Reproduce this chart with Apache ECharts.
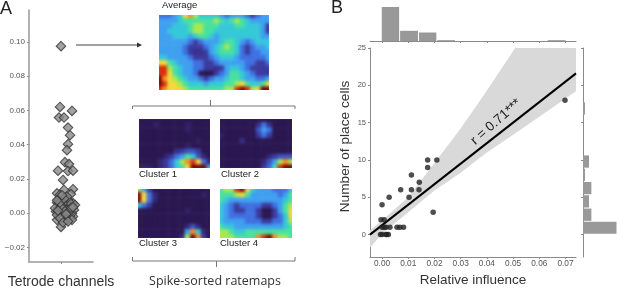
<!DOCTYPE html>
<html><head><meta charset="utf-8">
<style>html,body{margin:0;padding:0;background:#fff}#c{width:617px;height:288px}</style>
<script src="https://cdn.jsdelivr.net/npm/echarts@6/dist/echarts.min.js"></script>
</head><body><div id="c"></div>
<script>
// Panel A: tetrode channels (horizontal jitter, relative influence)
const tetrodeJitter=[0,-1,11,-2,3,7,9,7,6,4,8,-3,7,12,2,12,3,-4,-1,10,2,-4,12,7,6,-3,2,9,13,-5,-1,4,11,-4,7,12,2,0,-2,6,-2,3,10,7,-6,14,1,5,-4,9,6,-1,11,2,7,0,4,-3,8,-1,3,10,-4,5,12,1];
const tetrodeValues=[0.0975,0.062,0.0597,0.0558,0.0558,0.05,0.0455,0.0403,0.0368,0.0298,0.0287,0.0248,0.0246,0.0248,0.0194,0.014,0.0136,0.0116,0.0107,0.0112,0.0072,0.0062,0.0058,0.0078,0.0048,0.0029,0.0019,0.0023,0.0019,0.001,0,-0.001,0,-0.0039,-0.0029,-0.0019,-0.0029,-0.008,0.0078,0.0097,0.0058,0.0048,0.0054,0.0019,0.0029,0.0048,0.0039,0.0019,-0.001,-0.0016,-0.0039,-0.0029,-0.0039,-0.0054,-0.0048,0.0035,0.0012,0.0015,0.0008,0.0062,0.0085,0.0032,0.0075,-0.0005,0.0035,0.0105];
const tetrodeTicks=[-0.02,0,0.02,0.04,0.06,0.08,0.10];

// Panel A: rate maps, colour levels 0-10
const averageMap=[
[2,2,2,3,4,7,8,6,4,4,4,4,3,2,3,3,3,2,1,2,3,3],
[3,3,3,3,4,5,5,5,5,5,5,6,5,4,5,6,5,4,3,3,3,3],
[3,3,3,4,4,4,5,6,6,5,5,5,4,4,4,5,5,4,4,4,3,1],
[3,3,4,4,4,4,5,6,6,5,5,4,4,4,4,4,4,4,4,4,3,1],
[3,3,3,4,4,4,3,4,5,5,4,3,4,4,4,4,4,4,4,4,3,3],
[3,3,3,3,3,3,2,1,2,3,3,3,4,5,5,4,3,2,3,4,4,4],
[3,3,3,3,3,2,1,1,1,2,3,4,5,6,5,4,2,1,2,3,3,4],
[3,3,3,3,3,2,1,0.7,0.7,1,3,4,5,5,5,4,2,1,2,2,3,3],
[4,4,3,3,3,3,2,1,1,1,2,3,4,4,4,3,2,2,2,2,2,3],
[7,7,5,4,3,3,3,2,2,1,1,2,3,3,3,3,3,2,2,1,1,2],
[9,9,6,5,4,3,3,2,2,1,1,0.7,1,3,4,4,3,2,1,1,1,1],
[9,9,7,5,4,3,3,2,0,0,0,1,2,3,5,5,4,3,2,1,1,1],
[10,8,7,6,5,4,3,3,2,1,2,3,3,4,5,5,4,3,3,2,2,3],
[10,9,7,7,6,5,4,4,4,3,4,4,4,5,5,6,7,5,4,4,5,7],
[9,8,7,7,7,6,5,5,5,5,5,5,5,6,6,9,10,9,6,7,10,10]];
const cluster1Map=[
[0,0,0,0,0,0,0,0,0,0,0,0,0,0],
[0,0,0,0.3,0,0,0,0,0,0.3,0,0,0,0],
[0,0,0,0,0,0,0,0,0,0.3,0,0,0,0],
[0,0,0,0,0,0,0,0,0,0,0,0,0,0],
[0,0,0,0,0,0,0,0,0,0,0,0.3,0,0],
[0,0,0,0,0,0,0,0,0,0.3,0,0,0,0],
[0,0,0,0,0,0,0,0.7,1,1.5,1.5,1,0,0],
[0,0,0,0,0,0.5,1,2,3,5,4,1.5,0.5,0],
[0,0,0,0,0.5,1,2,4,6,8,9,7,2,0.5],
[0.3,0.3,0.3,0,0.5,1,2,4,5,7,10,10,10,3]];
const cluster2Map=[
[0,0,0,0,0,0,0,0,0,0,0,0,0,0],
[0,0,0,0,0,0,0,0.7,2,0.7,0,0,0,0],
[0,0,0,0,0,0,0,1.5,3,2,0,0,0,0],
[0.3,0,0,0,0,0,0,1,2,1,0,0,0,0],
[0,0,0,0,0.7,0,0,0,0,0,0,0,0,0],
[0,0,0,0,0,0,0,0,0,0,0,0,0,0],
[0,0,0,0,0,0,0,0,0,0,0,0,0,0],
[0,0,0,0,0,0,0,0,0,0.5,1,1.5,1.5,1.5],
[0,0,0,0,0,0,0,0,0.5,1.5,3,6,8,6],
[0,0,0,0,0,0,0,0,1,2,5,9,10,10]];
const cluster3Map=[
[6,3,1,0,0,0,0,0,0,0,0,0,0,0],
[10,7,2,0.5,0,0,0,0,0,0,0,0,0.3,0],
[10,7,2,0.5,0,0,0,0,0,0,0,0,0,0],
[4,2,1,0,0,0,0,0,0,0,0,0,0,0],
[0,0,0,0,0,0,0,0,0,0.3,0,0,0,0],
[0,0,0,0,0,0,0,0,0,0,0,0,0,0],
[0,0,0,0,0,0,0,0,0,0,0,0,0,0],
[0,0,0,0,0,0,0,0,0,0.5,1.5,0.5,0,0],
[0,0,0,0,0,0,0,0,0,3,8,4,0.5,0],
[0,0,0,0,0,0,0,0,0.5,6,10,8,1,0]];
const cluster4Map=[
[5,6,6,9,10,7,4,3,3,3,2,2,2,4],
[5,5,5,6,7,5,3,3,3,3,3,2,3,5],
[5,4,3,3,3,3,3,3,3,3,3,3,4,5],
[4,3,2,1,2,2,2,2,1,1,2,3,5,6],
[4,3,2,1,1,2,2,1,0,0,1,3,5,7],
[4,3,2,2,2,2,2,1,0,0,1,2,4,7],
[4,3,3,3,3,2,2,2,1,1,2,2,4,6],
[5,4,4,3,3,3,3,3,3,3,3,3,4,5],
[6,6,5,4,4,5,5,5,5,5,5,5,5,5],
[6,6,6,5,5,5,5,8,9,10,8,6,6,5]];

// Panel B: scatter
const influenceValues=[-0.0006,0,0.0014,0.0018,0.0024,0,0.0008,0.0015,0.003,0.0057,0.0068,0.0082,-0.0004,0.0008,0.0195,0,0.0027,0.0103,0.0071,0.0112,0.0141,0.0142,0.0112,0.0174,0.0174,0.0209,0.0698];
const placeCellValues=[0,0,0,0,0,1,1,1,1,1,1,1,2,2,3,4,5,5,6,6,6,7,8,9,10,10,18];
const xTicks=[0,0.01,0.02,0.03,0.04,0.05,0.06,0.07];
const yTicks=[0,5,10,15,20,25];
// regression line and its confidence band
const fitX=[-0.0046,0.074];
const fitY=[0,21.6];
const bandUpperX=[-0.0046,0,0.01,0.02,0.03,0.04,0.0508,0.074];
const bandUpperY=[0.6,1.9,5,9.6,14.2,19.3,25,25];
const bandLowerX=[0.074,0.0527,0.04,0.03,0.02,0.01,0,-0.0046];
const bandLowerY=[19.2,14,11,8.3,5.9,3,0.1,-1.75];
// marginal histograms
const topEdges=[-0.0003,0.0067,0.0139,0.0209,0.028,0.035,0.042,0.049,0.056,0.063,0.0702];
const topCounts=[20,6,5,0.5,0,0,0,0,0,0.5];
const rightEdges=[0.04,1.78,3.56,5.34,7.12,8.9,10.68,12.46,14.24,16.02,17.8];
const rightCounts=[20,5,3.6,5,1.2,3.6,0,0,0,1.2];

const mapPalette=['#2a1650','#3b3a9e','#3f6fe0','#3f9ff0','#35c8d8','#48e0a0','#a5e850','#f2d838','#f88e20','#d83010','#760806'];
const axisGrey='#8a8a8a', textDark='#333', tickText='#555', FONT='"Liberation Sans",Arial,sans-serif';

const grids=[], xAxes=[], yAxes=[], series=[];
function addGrid(g,x,y){grids.push(Object.assign({outerBoundsMode:'none'},g));xAxes.push(Object.assign({gridIndex:grids.length-1},x));yAxes.push(Object.assign({gridIndex:grids.length-1},y));return grids.length-1;}

// rate maps: each grid runs slightly past the visible box so the soft edge is masked off
const bleed=2;
const mapBoxes=[[averageMap,159,15,110,75],[cluster1Map,139,119,71,49],[cluster2Map,220,119,72,49],[cluster3Map,138,189,72,49],[cluster4Map,220,189,72,49]];
const heatIdx=[];
mapBoxes.forEach(function(b){
  const rows=b[0];
  const i=addGrid({left:b[1]-bleed,top:b[2]-bleed,width:b[3]+2*bleed,height:b[4]+2*bleed},
    {type:'category',show:false,data:rows[0].map(function(_,k){return k;})},
    {type:'category',show:false,inverse:true,data:rows.map(function(_,k){return k;})});
  const d=[];rows.forEach(function(r,ri){r.forEach(function(v,ci){d.push([ci,ri,v]);});});
  heatIdx.push(series.length);
  series.push({type:'heatmap',xAxisIndex:i,yAxisIndex:i,data:d,zlevel:1,silent:true,itemStyle:{borderWidth:0}});
});

// panel A scatter
const a=addGrid({left:29,top:10,width:64,height:252},
 {type:'value',min:-32,max:32,name:'Tetrode channels',nameLocation:'middle',nameGap:13,nameTextStyle:{fontFamily:FONT,fontSize:14,color:textDark},
  axisLine:{onZero:false,lineStyle:{color:'#999',width:1.5}},axisTick:{show:true,length:2,lineStyle:{color:axisGrey},customValues:[0]},axisLabel:{show:false},splitLine:{show:false}},
 {type:'value',min:-0.0285,max:0.1186,axisLine:{show:true,onZero:false,lineStyle:{color:'#999',width:1.5}},
  axisTick:{show:true,length:2,lineStyle:{color:axisGrey},customValues:tetrodeTicks},
  axisLabel:{customValues:tetrodeTicks,margin:4,fontFamily:FONT,fontSize:8,color:tickText,formatter:function(v){return (v<0?'\u2212':'')+Math.abs(v).toFixed(2);}},splitLine:{show:false}});
series.push({type:'scatter',xAxisIndex:a,yAxisIndex:a,symbol:'diamond',symbolSize:9.5,
  data:tetrodeValues.map(function(v,i){return [tetrodeJitter[i],v];}),itemStyle:{color:'#8a8a8a',borderColor:'#333',borderWidth:1.1}});

// panel B main
const xLab=function(v){return v.toFixed(2);};
const m=addGrid({left:370,top:48,width:206,height:209},
 {type:'value',min:-0.0046,max:0.074,name:'Relative influence',nameLocation:'middle',nameGap:15,nameTextStyle:{fontFamily:FONT,fontSize:13.5,color:textDark},
  axisLine:{onZero:false,lineStyle:{color:axisGrey}},axisTick:{length:2,lineStyle:{color:axisGrey},customValues:xTicks},
  axisLabel:{customValues:xTicks,margin:3,fontFamily:FONT,fontSize:8.3,color:tickText,formatter:xLab},splitLine:{show:false}},
 {type:'value',min:-3,max:25,name:'Number of place cells',nameLocation:'middle',nameGap:18,nameRotate:90,nameTextStyle:{fontFamily:FONT,fontSize:13.7,color:textDark,padding:[0,0,0,12]},
  axisLine:{show:true,onZero:false,lineStyle:{color:axisGrey}},axisTick:{show:true,length:2,lineStyle:{color:axisGrey},customValues:yTicks},
  axisLabel:{customValues:yTicks,margin:4,fontFamily:FONT,fontSize:7.5,color:tickText},splitLine:{show:false}});
series.push({type:'custom',xAxisIndex:m,yAxisIndex:m,clip:true,silent:true,z:1,data:[[0,0]],
  renderItem:function(p,api){
    const pts=bandUpperX.map(function(x,i){return api.coord([x,bandUpperY[i]]);}).concat(bandLowerX.map(function(x,i){return api.coord([x,bandLowerY[i]]);}));
    return {type:'polygon',shape:{points:pts},style:{fill:'#d9d9d9'}};
  }});
series.push({type:'line',xAxisIndex:m,yAxisIndex:m,z:3,showSymbol:false,data:fitX.map(function(x,i){return [x,fitY[i]];}),lineStyle:{color:'#000',width:2},silent:true});
series.push({type:'scatter',xAxisIndex:m,yAxisIndex:m,z:4,symbolSize:5.5,data:influenceValues.map(function(x,i){return [x,placeCellValues[i]];}),itemStyle:{color:'#222'}});

// top histogram
const t=addGrid({left:370,top:7,width:206,height:34},
 {type:'value',min:-0.0046,max:0.074,axisLine:{onZero:false,lineStyle:{color:axisGrey}},axisTick:{length:2,lineStyle:{color:axisGrey},customValues:xTicks},axisLabel:{show:false},splitLine:{show:false}},
 {type:'value',min:0,max:20,show:false});
series.push({type:'custom',xAxisIndex:t,yAxisIndex:t,silent:true,data:topCounts.map(function(c,i){return [topEdges[i],topEdges[i+1],c];}),
  renderItem:function(p,api){
    const a0=api.coord([api.value(0),0]),a1=api.coord([api.value(1),api.value(2)]);
    return {type:'rect',shape:{x:a0[0]+0.5,y:a1[1],width:a1[0]-a0[0]-1,height:a0[1]-a1[1]},style:{fill:'#999'}};
  }});

// right histogram
const r=addGrid({left:583,top:48,width:34,height:209},
 {type:'value',min:0,max:20.3,show:false},
 {type:'value',min:-3,max:25,axisLine:{show:true,onZero:false,lineStyle:{color:axisGrey}},axisTick:{show:true,length:2,lineStyle:{color:axisGrey},customValues:yTicks},axisLabel:{show:false},splitLine:{show:false}});
series.push({type:'custom',xAxisIndex:r,yAxisIndex:r,silent:true,data:rightCounts.map(function(c,i){return [rightEdges[i],rightEdges[i+1],c];}),
  renderItem:function(p,api){
    const a0=api.coord([0,api.value(0)]),a1=api.coord([api.value(2),api.value(1)]);
    return {type:'rect',shape:{x:a0[0],y:a1[1]+0.5,width:a1[0]-a0[0],height:a0[1]-a1[1]-1},style:{fill:'#999'}};
  }});

function label(text,x,y,size,extra){return {type:'text',x:x,y:y,zlevel:3,silent:true,style:Object.assign({text:text,fontFamily:FONT,fontSize:size,fill:'#222',align:'left',verticalAlign:'middle'},extra||{})};}
function path(points,color,w){return {type:'polyline',z:5,silent:true,shape:{points:points},style:{stroke:color,lineWidth:w,fill:null}};}
function mask(b){const w=2*bleed+2;return {type:'rect',zlevel:2,silent:true,shape:{x:b[1]-w/2,y:b[2]-w/2,width:b[3]+w,height:b[4]+w},style:{fill:null,stroke:'#fff',lineWidth:w}};}
const rText=label('r = 0.71***',496,122,13.5,{align:'center',fill:'#222'});
rText.rotation=0.72;

const chart=echarts.init(document.getElementById('c'),null,{renderer:'canvas'});
chart.setOption({
  animation:false,
  grid:grids,xAxis:xAxes,yAxis:yAxes,series:series,
  visualMap:[{type:'continuous',show:false,min:0,max:10,seriesIndex:heatIdx,inRange:{color:mapPalette}}],
  graphic:mapBoxes.map(mask).concat([
    label('A',0,9,18),label('B',331,8,18),
    label('Average',162,5.5,9.5),
    label('Cluster 1',139,174.5,9.5),label('Cluster 2',221,174,9.5),label('Cluster 3',139,243.5,9.5),label('Cluster 4',220,243.5,9.5),
    label('Spike-sorted ratemaps',215,281,12.5,{align:'center',fontFamily:'"Open Sans",sans-serif',fill:textDark}),
    rText,
    path([[76,45],[139,45]],'#444',1),
    {type:'polygon',z:5,silent:true,shape:{points:[[142,45],[137,42.5],[137,47.5]]},style:{fill:'#333'}},
    path([[132.5,109],[132.5,106],[295,106],[295,109]],'#777',1),
    path([[210.5,100],[210.5,106]],'#777',1),
    path([[132.5,257],[132.5,261],[295,261],[295,257]],'#777',1),
    path([[216.5,261],[216.5,267]],'#777',1)
  ])
});
function blurMaps(){
  const cv=document.querySelectorAll('#c canvas');
  if(cv.length>1){cv[1].style.filter='blur(1.6px)';}
}
blurMaps();
chart.on('finished',blurMaps);
</script></body></html>
